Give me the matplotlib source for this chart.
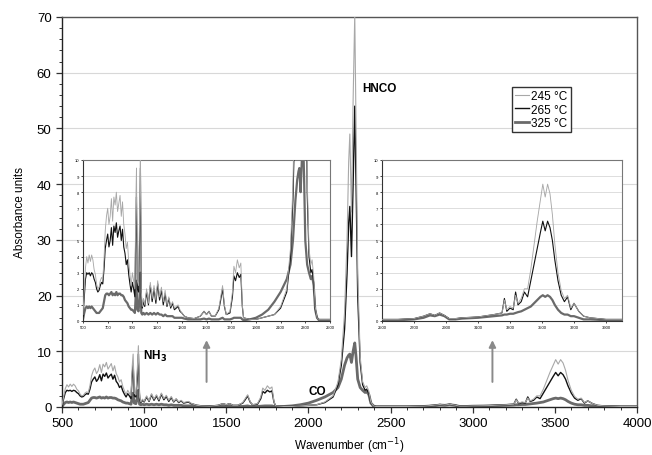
import matplotlib
matplotlib.use("Agg")
import matplotlib.pyplot as plt
from matplotlib.ticker import MultipleLocator

plt.rcParams['font.family'] = ['Liberation Sans', 'DejaVu Sans']

# ---- data (wavenumber in cm-1, absorbance units) ----
wn_a = [500, 510, 520, 530, 540, 550, 560, 570, 580, 590, 600, 610, 620, 630, 640, 650, 660, 670, 680, 690]
s265_a = [0.3, 1.5, 2.6, 3.0, 2.9, 3.0, 2.8, 3.0, 2.9, 2.6, 2.4, 2.0, 1.8, 1.9, 2.2, 2.4, 2.3, 3.2, 4.5, 5.0]
s245_a = [0.4, 1.9, 3.3, 4.0, 3.6, 4.1, 3.7, 4.1, 3.8, 3.2, 2.9, 2.3, 2.0, 2.1, 2.5, 2.7, 2.6, 3.8, 5.6, 6.5]
s325_a = [0.1, 0.5, 0.8, 0.9, 0.8, 0.9, 0.8, 0.9, 0.8, 0.7, 0.6, 0.5, 0.5, 0.5, 0.6, 0.7, 0.8, 1.2, 1.6, 1.7]

wn_b = [700, 710, 720, 730, 740, 750, 760, 770, 780, 790, 800, 810, 820, 830, 840, 850, 860, 870, 880, 890, 900, 910]
s265_b = [5.4, 4.6, 5.0, 5.8, 4.7, 5.9, 5.5, 6.1, 5.2, 5.6, 5.9, 5.0, 5.7, 4.6, 4.2, 3.5, 3.8, 2.9, 2.3, 1.8, 2.4, 2.0]
s245_b = [7.0, 6.0, 6.5, 7.6, 6.2, 7.7, 7.2, 8.0, 6.8, 7.3, 7.8, 6.5, 7.4, 6.0, 5.4, 4.5, 4.9, 3.7, 2.9, 2.2, 3.0, 2.5]
s325_b = [1.7, 1.6, 1.7, 1.8, 1.6, 1.7, 1.6, 1.8, 1.6, 1.7, 1.7, 1.6, 1.6, 1.5, 1.3, 1.2, 1.1, 0.9, 0.8, 0.7, 0.7, 0.6]

wn_c = [920, 928, 933, 940, 950, 958, 965, 972]
s265_c = [1.5, 6.0, 7.7, 2.0, 1.8, 5.0, 9.5, 1.5]
s245_c = [2.0, 7.5, 9.5, 2.5, 2.2, 6.5, 11.0, 1.8]
s325_c = [0.5, 1.8, 2.5, 0.7, 0.6, 1.5, 3.0, 0.5]

wn_d = [980, 990, 1000, 1015, 1030, 1045, 1060, 1075, 1090, 1105, 1120, 1135, 1150, 1165, 1180, 1195,
        1210, 1225, 1240, 1255, 1270, 1285, 1300]
s265_d = [0.8, 1.2, 0.9, 1.8, 1.0, 2.2, 1.2, 2.0, 1.1, 2.3, 1.3, 1.9, 1.0, 1.7, 0.9, 1.4,
          0.8, 1.1, 0.7, 0.8, 0.9, 0.6, 0.5]
s245_d = [0.9, 1.4, 1.0, 2.0, 1.1, 2.4, 1.4, 2.2, 1.3, 2.5, 1.5, 2.1, 1.2, 1.9, 1.0, 1.5,
          0.9, 1.2, 0.8, 0.9, 1.0, 0.7, 0.5]
s325_d = [0.4, 0.5, 0.4, 0.5, 0.4, 0.5, 0.4, 0.5, 0.4, 0.5, 0.4, 0.4, 0.3, 0.4, 0.3, 0.3,
          0.3, 0.3, 0.2, 0.2, 0.2, 0.2, 0.2]

wn_e = [1320, 1350, 1400, 1450, 1480, 1500, 1520, 1540, 1570, 1600, 1615, 1630, 1645, 1660, 1690,
        1710, 1722, 1735, 1750, 1765, 1778, 1790, 1800, 1850, 1900, 1950, 2000]
s265_e = [0.3, 0.2, 0.15, 0.3, 0.6, 0.4, 0.6, 0.3, 0.3, 0.7, 1.3, 2.0, 0.9, 0.4, 0.5,
          1.5, 2.8, 2.5, 3.0, 2.7, 2.9, 0.9, 0.2, 0.1, 0.1, 0.2, 0.3]
s245_e = [0.3, 0.2, 0.15, 0.3, 0.6, 0.4, 0.6, 0.3, 0.3, 0.8, 1.5, 2.2, 1.0, 0.4, 0.6,
          1.8, 3.4, 3.0, 3.8, 3.3, 3.6, 1.0, 0.2, 0.1, 0.1, 0.2, 0.3]
s325_e = [0.15, 0.1, 0.1, 0.1, 0.15, 0.1, 0.15, 0.1, 0.1, 0.1, 0.15, 0.2, 0.1, 0.1, 0.1,
          0.15, 0.2, 0.2, 0.2, 0.2, 0.2, 0.1, 0.05, 0.1, 0.2, 0.4, 0.7]

wn_f = [2050, 2100, 2150, 2180, 2200, 2220, 2235, 2245, 2252, 2262, 2272, 2282, 2290, 2300, 2315,
        2330, 2345, 2355, 2368, 2380, 2395, 2410]
s265_f = [0.4, 0.8, 1.8, 4.0, 7.5, 14, 24, 33, 36, 27, 40, 54, 40, 20, 8,
          4, 3.0, 3.2, 2.4, 0.8, 0.2, 0.1]
s245_f = [0.4, 0.9, 2.0, 4.5, 8.5, 17, 30, 44, 49, 35, 55, 70.5, 50, 24, 9,
          4.5, 3.5, 3.8, 2.8, 0.9, 0.2, 0.1]
s325_f = [1.2, 1.8, 2.6, 3.5, 5.0, 7.5, 8.8, 9.3, 9.5, 8.0, 10, 11.5, 9, 5, 3.5,
          3.0, 2.6, 2.8, 2.2, 0.7, 0.2, 0.05]

wn_g = [2500, 2600, 2700, 2760, 2800, 2830, 2860, 2890, 2920, 2960, 3000, 3100, 3200, 3250, 3265,
        3280, 3300, 3320, 3335, 3350, 3370, 3390, 3410, 3430, 3450, 3470, 3490, 3505, 3520, 3535,
        3550, 3565, 3580, 3600, 3620, 3640, 3660, 3680, 3700, 3730, 3760, 3800, 3900, 4000]
s265_g = [0.1, 0.1, 0.15, 0.3, 0.45, 0.35, 0.5, 0.35, 0.15, 0.15, 0.2, 0.25, 0.4, 0.5, 1.4,
          0.6, 0.8, 0.7, 1.8, 1.0, 1.2, 1.8, 1.5, 2.5, 3.5, 4.5, 5.5, 6.2, 5.6, 6.2,
          5.8, 5.0, 3.8, 2.5, 1.6, 1.2, 1.5, 0.7, 1.1, 0.6, 0.3, 0.2, 0.1, 0.1]
s245_g = [0.1, 0.1, 0.15, 0.3, 0.45, 0.35, 0.5, 0.35, 0.15, 0.15, 0.2, 0.25, 0.4, 0.5, 1.3,
          0.7, 0.9, 0.8, 1.6, 1.1, 1.4, 2.0, 2.0, 3.2, 4.7, 6.2, 7.5, 8.5, 7.7, 8.5,
          7.9, 6.6, 4.8, 3.0, 1.9, 1.4, 1.6, 0.8, 1.1, 0.6, 0.3, 0.2, 0.1, 0.1]
s325_g = [0.05, 0.05, 0.1, 0.2, 0.35, 0.3, 0.4, 0.3, 0.1, 0.1, 0.15, 0.2, 0.3, 0.35, 0.4,
          0.4, 0.45, 0.45, 0.5, 0.55, 0.6, 0.7, 0.8, 0.9, 1.1, 1.3, 1.5, 1.6, 1.5, 1.6,
          1.5, 1.3, 1.0, 0.7, 0.5, 0.4, 0.4, 0.3, 0.3, 0.2, 0.1, 0.1, 0.05, 0.05]

wavenumber = wn_a + wn_b + wn_c + wn_d + wn_e + wn_f + wn_g
abs_245 = s245_a + s245_b + s245_c + s245_d + s245_e + s245_f + s245_g
abs_265 = s265_a + s265_b + s265_c + s265_d + s265_e + s265_f + s265_g
abs_325 = s325_a + s325_b + s325_c + s325_d + s325_e + s325_f + s325_g

series_labels = ["245 \u00b0C", "265 \u00b0C", "325 \u00b0C"]
main_xticks = [500, 1000, 1500, 2000, 2500, 3000, 3500, 4000]
left_inset_xticks = [500, 700, 900, 1100, 1300, 1500, 1700, 1900, 2100, 2300, 2500]
right_inset_xticks = [2500, 2700, 2900, 3100, 3300, 3500, 3700, 3900]

styles = {
    "245": dict(color="#a8a8a8", lw=0.8, zorder=4),
    "265": dict(color="#111111", lw=1.0, zorder=3),
    "325": dict(color="#6a6a6a", lw=2.0, zorder=2),
}

W, H = 652, 456
fig = plt.figure(figsize=(W / 100, H / 100), dpi=100)

def fr(x0, y0, x1, y1):
    return [x0 / W, 1 - y1 / H, (x1 - x0) / W, (y1 - y0) / H]

ax = fig.add_axes(fr(62, 18, 637, 408))

def draw(a, lwscale=1.0):
    l3 = a.plot(wavenumber, abs_325, label=series_labels[2], **{**styles["325"], "lw": styles["325"]["lw"] * lwscale})
    l2 = a.plot(wavenumber, abs_265, label=series_labels[1], **{**styles["265"], "lw": styles["265"]["lw"] * lwscale})
    l1 = a.plot(wavenumber, abs_245, label=series_labels[0], **{**styles["245"], "lw": styles["245"]["lw"] * lwscale})
    return l1[0], l2[0], l3[0]

h1, h2, h3 = draw(ax)
ax.set_xlim(500, 4000)
ax.set_ylim(0, 70)
ax.set_xticks(main_xticks)
ax.yaxis.set_major_locator(MultipleLocator(10))
ax.yaxis.set_minor_locator(MultipleLocator(2))
ax.xaxis.set_minor_locator(MultipleLocator(100))
ax.grid(axis="y", color="#d8d8d8", lw=0.8, zorder=0)
ax.set_axisbelow(True)
ax.tick_params(labelsize=9.5, length=4, width=0.9, color="#333333")
ax.tick_params(which="minor", length=2, width=0.7, color="#333333")
for s in ax.spines.values():
    s.set_color("#555555")
    s.set_linewidth(1.0)
ax.spines["left"].set_color("#222222")
ax.spines["bottom"].set_color("#222222")
ax.set_xlabel("Wavenumber (cm$^{-1}$)", fontsize=8.5, labelpad=4)
ax.set_ylabel("Absorbance units", fontsize=8.5, labelpad=8)

ax.text(2326, 57.3, "HNCO", fontsize=8.5, fontweight="bold", va="center", ha="left")
ax.text(993, 9.2, "NH$_\\mathbf{3}$", fontsize=8.5, fontweight="bold", va="center", ha="left")
ax.text(2000, 2.9, "CO", fontsize=8.5, fontweight="bold", va="center", ha="left")

for xa in (1380, 3120):
    ax.annotate("", xy=(xa, 12.5), xytext=(xa, 4.0),
                arrowprops=dict(arrowstyle="-|>", color="#8a8a8a", lw=1.4, mutation_scale=10))

fig.legend([h1, h2, h3], series_labels, loc="upper left",
           bbox_to_anchor=(506 / W, 1 - 82 / H), fontsize=8.5, handlelength=1.2,
           handletextpad=0.2, borderpad=0.25, labelspacing=0.15, fancybox=False,
           edgecolor="#333333", framealpha=1)

def inset(box, xlim, xticks):
    ai = fig.add_axes(fr(*box))
    draw(ai, 0.8)
    ai.set_xlim(*xlim)
    ai.set_ylim(0, 10)
    ai.set_xticks(xticks)
    ai.yaxis.set_major_locator(MultipleLocator(1))
    ai.grid(axis="y", color="#d8d8d8", lw=0.6)
    ai.set_axisbelow(True)
    ai.tick_params(labelsize=3, length=1.5, width=0.5, pad=1.5)
    for s in ai.spines.values():
        s.set_color("#777777")
        s.set_linewidth(0.8)
    ai.spines["left"].set_color("#333333")
    ai.spines["bottom"].set_color("#333333")
    return ai

inset((83, 161, 330, 322), (500, 2500), left_inset_xticks)
inset((382, 161, 622, 322), (2500, 4000), right_inset_xticks)

fig.savefig("out.png", dpi=100)
